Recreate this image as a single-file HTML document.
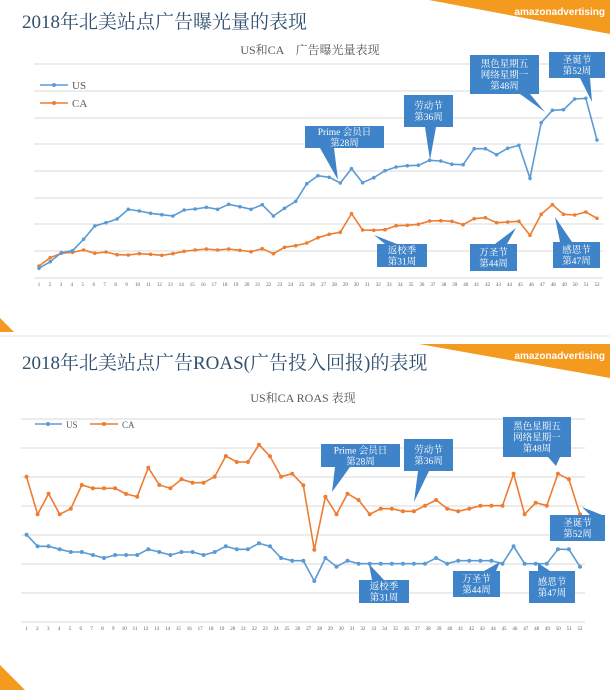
<!DOCTYPE html>
<html><head><meta charset="utf-8"><style>
html,body{margin:0;padding:0;background:#fff;}
body{width:610px;height:690px;position:relative;overflow:hidden;font-family:"Liberation Serif","Noto Serif CJK SC",serif;}
svg{position:absolute;left:0;top:0;}
</style></head><body>
<svg id="s" width="610" height="690" viewBox="0 0 610 690" xmlns="http://www.w3.org/2000/svg"></svg>
<script>
var s=document.getElementById('s'),h='';
function T(x,y,t,sz,c,a,w,f){h+='<text x="'+x+'" y="'+y+'" font-size="'+sz+'" fill="'+c+'" text-anchor="'+(a||'start')+'"'+(w?' font-weight="bold"':'')+' font-family="'+(f||'Liberation Serif, Noto Serif CJK SC, serif')+'">'+t+'</text>';}
function L(x1,y1,x2,y2,c,w){h+='<line x1="'+x1+'" y1="'+y1+'" x2="'+x2+'" y2="'+y2+'" stroke="'+c+'" stroke-width="'+w+'"/>';}
// backgrounds
h+='<rect width="610" height="690" fill="#fff"/>';
h+='<polygon points="429,0 610,0 610,34" fill="#f39a1f"/>';
h+='<polygon points="419,344 610,344 610,378" fill="#f39a1f"/>';
h+='<polygon points="0,318 14,332 0,332" fill="#f39a1f"/>';
h+='<polygon points="0,665 25,690 0,690" fill="#f39a1f"/>';
L(0,336,610,336,'#f2f2f2',2);
T(605,15,'amazonadvertising',10,'#fff','end',1,'Liberation Sans, sans-serif');
T(605,359,'amazonadvertising',10,'#fff','end',1,'Liberation Sans, sans-serif');
T(22,28,'2018年北美站点广告曝光量的表现',19,'#2f4f6f');
T(22,369,'2018年北美站点广告ROAS(广告投入回报)的表现',19,'#2f4f6f');
T(310,54,'US和CA　广告曝光量表现',12,'#595959','middle');
T(303,402,'US和CA ROAS 表现',12,'#595959','middle');
// grids
[64,91,118,144,171,198,224,251,278].forEach(function(y){L(34,y,603,y,'#d9d9d9',1);});
[419,448,477,506,535,564,593,622].forEach(function(y){L(21,y,585,y,'#d9d9d9',1);});
function ticks(x0,x1,y){for(var i=0;i<52;i++){T((x0+(x1-x0)*i/51).toFixed(1),y,i+1,5,'#595959','middle');}}
ticks(39,597,286);ticks(26.5,580,630);
function series(vals,x0,x1,sy,oy,c,r){var p=[],n=vals.length;for(var i=0;i<n;i++){p.push([(x0+(x1-x0)*i/(n-1)).toFixed(1),(vals[i]/3+oy).toFixed(1)]);}
h+='<polyline fill="none" stroke="'+c+'" stroke-width="1.6" points="'+p.map(function(q){return q.join(',')}).join(' ')+'"/>';
p.forEach(function(q){h+='<circle cx="'+q[0]+'" cy="'+q[1]+'" r="'+r+'" fill="'+c+'"/>';});}
var B='#5b9bd5',O='#ed7d31';
var usT=[805,785,758,752,718,678,668,657,628,633,640,644,648,630,627,622,628,613,620,628,614,648,625,604,551,527,532,549,506,548,533,512,501,497,496,481,483,493,494,446,446,464,445,436,535,368,331,329,297,295,420];
var caT=[798,773,760,757,750,760,756,764,765,761,763,766,761,754,750,747,750,747,751,755,746,761,742,737,729,713,703,697,641,690,691,689,677,676,673,663,662,664,674,656,653,668,666,664,706,643,614,643,645,636,655];
series(caT,39,597,3,0,O,1.8);series(usT,39,597,3,0,B,1.8);
var caB=[410,523,461,523,506,435,445,445,445,462,470,383,435,445,418,428,428,410,348,366,366,314,349,410,401,436,629,470,523,461,480,523,506,506,514,514,497,480,506,514,506,497,497,497,401,523,488,497,401,418,523];
var usB=[584,619,619,628,636,636,645,654,645,645,645,628,636,645,636,636,645,636,619,628,628,610,619,654,662,662,723,654,680,662,671,671,671,671,671,671,671,654,671,662,662,662,662,671,619,671,671,671,628,628,680];
series(caB,26.5,580,3,340,O,2);series(usB,26.5,580,3,340,B,2);
// legends
L(40,85,68,85,B,1.6);h+='<circle cx="54" cy="85" r="2" fill="'+B+'"/>';T(72,89,'US',11,'#595959');
L(40,103,68,103,O,1.6);h+='<circle cx="54" cy="103" r="2" fill="'+O+'"/>';T(72,107,'CA',11,'#595959');
L(35,424,62,424,B,1.6);h+='<circle cx="48" cy="424" r="2" fill="'+B+'"/>';T(66,428,'US',9,'#595959');
L(90,424,118,424,O,1.6);h+='<circle cx="104" cy="424" r="2" fill="'+O+'"/>';T(122,428,'CA',9,'#595959');
// callouts: box x1,y1,x2,y2, pointer base pts, tip, lines
var C='#3f83c8';
function co(x1,y1,x2,y2,b1,b2,tip,lines){h+='<rect x="'+x1+'" y="'+y1+'" width="'+(x2-x1)+'" height="'+(y2-y1)+'" fill="'+C+'"/>';
h+='<polygon points="'+b1.join(',')+' '+b2.join(',')+' '+tip.join(',')+'" fill="'+C+'"/>';
var cx=(x1+x2)/2,n=lines.length,lh=11,y0=(y1+y2)/2-(n-1)*lh/2+3.5;
lines.forEach(function(t,i){T(cx,y0+i*lh,t,9.5,'#fff','middle');});}
co(305,126,384,148,[320,148],[334,148],[338,180],['Prime 会员日','第28周']);
co(404,95,453,127,[425,127],[436,127],[430,160],['劳动节','第36周']);
co(470,55,539,94,[520,94],[530,94],[545,112],['黑色星期五','网络星期一','第48周']);
co(549,52,605,78,[580,78],[590,78],[592,102],['圣诞节','第52周']);
co(377,244,427,267,[385,244],[397,244],[374,235],['返校季','第31周']);
co(470,244,517,271,[495,244],[507,244],[516,228],['万圣节','第44周']);
co(553,242,600,268,[560,242],[572,242],[555,217],['感恩节','第47周']);
co(321,444,400,467,[335,467],[350,467],[332,492],['Prime 会员日','第28周']);
co(404,439,453,471,[418,471],[429,471],[414,502],['劳动节','第36周']);
co(503,417,571,457,[548,457],[560,457],[556,466],['黑色星期五','网络星期一','第48周']);
co(550,515,605,541,[590,515],[602,515],[582,507],['圣诞节','第52周']);
co(359,580,409,603,[372,580],[384,580],[369,564],['返校季','第31周']);
co(453,571,500,597,[484,571],[496,571],[500,562],['万圣节','第44周']);
co(529,571,575,603,[538,571],[550,571],[538,563],['感恩节','第47周']);
s.innerHTML=h;
</script>
</body></html>
